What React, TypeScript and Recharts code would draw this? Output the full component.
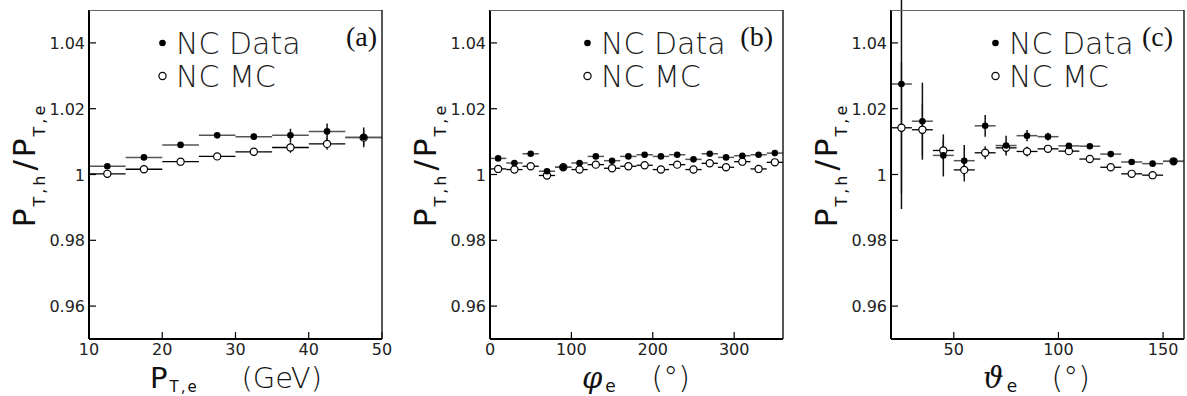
import React from "react";
import { ScatterChart, Scatter, XAxis, YAxis, ErrorBar } from "recharts";

// panel (a): P_T,e bins (GeV)
const ptCenters = [12.5, 17.5, 22.5, 27.5, 32.5, 37.5, 42.5, 47.5];
const ptData = [1.0025, 1.0052, 1.009, 1.0119, 1.0115, 1.0119, 1.0131, 1.0113];
const ptDataErr = [0.0005, 0.0005, 0.0006, 0.0008, 0.001, 0.002, 0.0024, 0.003];
const ptMc = [1.0002, 1.0016, 1.0039, 1.0055, 1.0069, 1.0082, 1.0093, 1.0112];
const ptMcErr = [0.0003, 0.0004, 0.0005, 0.0006, 0.0009, 0.0016, 0.0018, 0.0022];
const ptTicks = [10, 20, 30, 40, 50];

// panel (b): phi_e bins (deg)
const phiCenters = [10, 30, 50, 70, 90, 110, 130, 150, 170, 190, 210, 230, 250, 270, 290, 310, 330, 350];
const phiData = [1.0049, 1.0035, 1.0063, 1.001, 1.0022, 1.0035, 1.0055, 1.0042, 1.0055, 1.006, 1.0055, 1.006, 1.0046, 1.0063, 1.0052, 1.0057, 1.006, 1.0065];
const phiDataErr = [0.0004, 0.0004, 0.0004, 0.0004, 0.0004, 0.0004, 0.0004, 0.0004, 0.0004, 0.0004, 0.0004, 0.0004, 0.0004, 0.0004, 0.0004, 0.0004, 0.0004, 0.0004];
const phiMc = [1.0017, 1.0015, 1.0025, 0.9997, 1.0022, 1.0015, 1.003, 1.0019, 1.0025, 1.0028, 1.0015, 1.003, 1.0015, 1.0034, 1.0022, 1.0039, 1.0017, 1.0037];
const phiMcErr = [0.0003, 0.0003, 0.0003, 0.0003, 0.0003, 0.0003, 0.0003, 0.0003, 0.0003, 0.0003, 0.0003, 0.0003, 0.0003, 0.0003, 0.0003, 0.0003, 0.0003, 0.0003];
const phiTicks = [0, 100, 200, 300];

// panel (c): theta_e bins (deg)
const thCenters = [25, 35, 45, 55, 65, 75, 85, 95, 105, 115, 125, 135, 145, 155];
const thData = [1.0275, 1.0162, 1.0058, 1.0042, 1.0148, 1.0088, 1.0118, 1.0115, 1.0087, 1.0086, 1.0062, 1.0038, 1.0033, 1.004];
const thDataErr = [0.038, 0.0117, 0.0064, 0.0048, 0.0033, 0.003, 0.0017, 0.0012, 0.0008, 0.0006, 0.0005, 0.0004, 0.0004, 0.0004];
const thMc = [1.0142, 1.0136, 1.0073, 1.0014, 1.0066, 1.0081, 1.007, 1.0078, 1.0071, 1.0047, 1.0022, 1.0002, 0.9998, 1.004];
const thMcErr = [0.02, 0.008, 0.003, 0.0035, 0.002, 0.0015, 0.0015, 0.001, 0.0008, 0.0006, 0.0005, 0.0004, 0.0004, 0.0004];
const thTicks = [50, 100, 150];

const yTicks = [0.96, 0.98, 1, 1.02, 1.04];

const FONT = "DejaVu Sans";
const CW = 400;
const CH = 396;
const PLOT_LEFT = 89;
const PLOT_W = 293;
const PLOT_TOP = 10;
const PLOT_BOTTOM = 339;

const rows = (xs: number[], ys: number[], halfWidth: number, errs: number[]) =>
  xs.map((x, i) => ({ x, y: ys[i], ex: halfWidth, ey: errs[i] }));

const YTick = (p: any) => (
  <g>
    <line x1={PLOT_LEFT} x2={PLOT_LEFT + 7} y1={p.y} y2={p.y} stroke="#000" strokeWidth={1.2} />
    <text x={PLOT_LEFT - 4} y={p.y + 6} textAnchor="end" fontFamily={FONT} fontSize={16} fill="#222">
      {p.payload.value === 1 ? "1" : p.payload.value.toFixed(2)}
    </text>
  </g>
);

const XTick = (p: any) => (
  <g>
    <line x1={p.x} x2={p.x} y1={PLOT_BOTTOM} y2={PLOT_BOTTOM - 7} stroke="#000" strokeWidth={1.2} />
    <text x={p.x} y={355} textAnchor="middle" fontFamily={FONT} fontSize={16} fill="#222">
      {p.payload.value}
    </text>
  </g>
);

const filledDot = (p: any) => <circle cx={p.cx} cy={p.cy} r={3.3} fill="#000" />;
const openDot = (p: any) => <circle cx={p.cx} cy={p.cy} r={3.6} fill="#fff" stroke="#000" strokeWidth={1.2} />;

function Panel({ left, domain, ticks, data, mc }: any) {
  return (
    <div style={{ position: "absolute", left, top: 0 }}>
      <ScatterChart width={CW} height={CH} margin={{ top: PLOT_TOP, right: CW - PLOT_LEFT - PLOT_W, bottom: 0, left: 0 }}>
        <XAxis type="number" dataKey="x" domain={domain} ticks={ticks} interval={0} allowDataOverflow height={CH - PLOT_BOTTOM}
          tick={<XTick />} tickLine={false} axisLine={{ stroke: "#000", strokeWidth: 2 }} />
        <YAxis type="number" dataKey="y" domain={[0.95, 1.05]} ticks={yTicks} interval={0} allowDataOverflow width={PLOT_LEFT}
          tick={<YTick />} tickLine={false} axisLine={{ stroke: "#000", strokeWidth: 2 }} />
        <Scatter data={mc} shape={openDot} isAnimationActive={false}>
          <ErrorBar dataKey="ex" direction="x" width={0} stroke="#000" strokeWidth={1.3} />
          <ErrorBar dataKey="ey" direction="y" width={0} stroke="#000" strokeWidth={1.3} />
        </Scatter>
        <Scatter data={data} shape={filledDot} isAnimationActive={false}>
          <ErrorBar dataKey="ex" direction="x" width={0} stroke="#555" strokeWidth={1.5} />
          <ErrorBar dataKey="ey" direction="y" width={0} stroke="#111" strokeWidth={1.5} />
        </Scatter>
      </ScatterChart>
    </div>
  );
}

const panelLefts = [0, 401, 802];
const legendOffsets = [73.5, 97.5, 104.5];
const labelRightOffsets = [5, 10, 11];
const panelTags = ["(a)", "(b)", "(c)"];

function YTitle({ x }: { x: number }) {
  return (
    <text transform={`translate(${x},165) rotate(-90)`} textAnchor="middle" fontFamily={FONT} fontSize={31} fill="#111">
      <tspan>P</tspan>
      <tspan fontSize={16} dy={10} dx={2} letterSpacing={3}>T,h</tspan>
      <tspan dy={-10} dx={2}>/</tspan>
      <tspan dx={3}>P</tspan>
      <tspan fontSize={16} dy={10} dx={2} letterSpacing={3}>T,e</tspan>
    </text>
  );
}

function Overlay() {
  return (
    <svg width={1187} height={396} style={{ position: "absolute", left: 0, top: 0, pointerEvents: "none" }}>
      {panelLefts.map((pl, i) => {
        const L = pl + PLOT_LEFT;
        const R = L + PLOT_W;
        const mx = L + legendOffsets[i];
        return (
          <g key={i}>
            {/* top and right frame */}
            <line x1={L} x2={R} y1={PLOT_TOP + 0.5} y2={PLOT_TOP + 0.5} stroke="#666" strokeWidth={1} />
            <line x1={R} x2={R} y1={PLOT_TOP} y2={PLOT_BOTTOM} stroke="#111" strokeWidth={1.4} />
            <YTitle x={L - 54} />
            <circle cx={mx} cy={43} r={3.3} fill="#000" />
            <circle cx={mx} cy={76} r={3.6} fill="#fff" stroke="#000" strokeWidth={1.2} />
            <text x={mx + 13.5} y={54} fontFamily={FONT} fontWeight={200} fontSize={30} fill="#222">NC Data</text>
            <text x={mx + 13.5} y={87} fontFamily={FONT} fontWeight={200} fontSize={30} fill="#222">NC MC</text>
            <text x={R - labelRightOffsets[i]} y={46} textAnchor="end" fontFamily="Liberation Serif" fontSize={28} fill="#111">
              {panelTags[i]}
            </text>
          </g>
        );
      })}
      {/* x titles */}
      <g fontFamily={FONT} fill="#111">
        <text x={150} y={388} fontSize={29}>P<tspan fontSize={15} dy={4} dx={2} letterSpacing={2}>T,e</tspan></text>
        <text x={322} y={388} fontSize={29} textAnchor="end" fontWeight={200}>(GeV)</text>
        <text x={582} y={388} fontSize={29} fontFamily="DejaVu Serif" fontStyle="italic">φ<tspan fontFamily={FONT} fontStyle="normal" fontSize={17} dy={4} dx={3}>e</tspan></text>
        <text x={690} y={388} fontSize={30} textAnchor="end" fontWeight={200}>(°)</text>
        <text x={983} y={388} fontSize={29} fontFamily="DejaVu Serif" fontStyle="italic">ϑ<tspan fontFamily={FONT} fontStyle="normal" fontSize={17} dy={4} dx={3}>e</tspan></text>
        <text x={1090} y={388} fontSize={30} textAnchor="end" fontWeight={200}>(°)</text>
      </g>
    </svg>
  );
}

export default function App() {
  return (
    <div style={{ position: "absolute", left: 0, top: 0, width: 1187, height: 396, background: "#fff", overflow: "hidden" }}>
      <Panel left={panelLefts[0]} domain={[10, 50]} ticks={ptTicks}
        data={rows(ptCenters, ptData, 2.5, ptDataErr)} mc={rows(ptCenters, ptMc, 2.5, ptMcErr)} />
      <Panel left={panelLefts[1]} domain={[0, 360]} ticks={phiTicks}
        data={rows(phiCenters, phiData, 10, phiDataErr)} mc={rows(phiCenters, phiMc, 10, phiMcErr)} />
      <Panel left={panelLefts[2]} domain={[20, 160]} ticks={thTicks}
        data={rows(thCenters, thData, 5, thDataErr)} mc={rows(thCenters, thMc, 5, thMcErr)} />
      <Overlay />
    </div>
  );
}
